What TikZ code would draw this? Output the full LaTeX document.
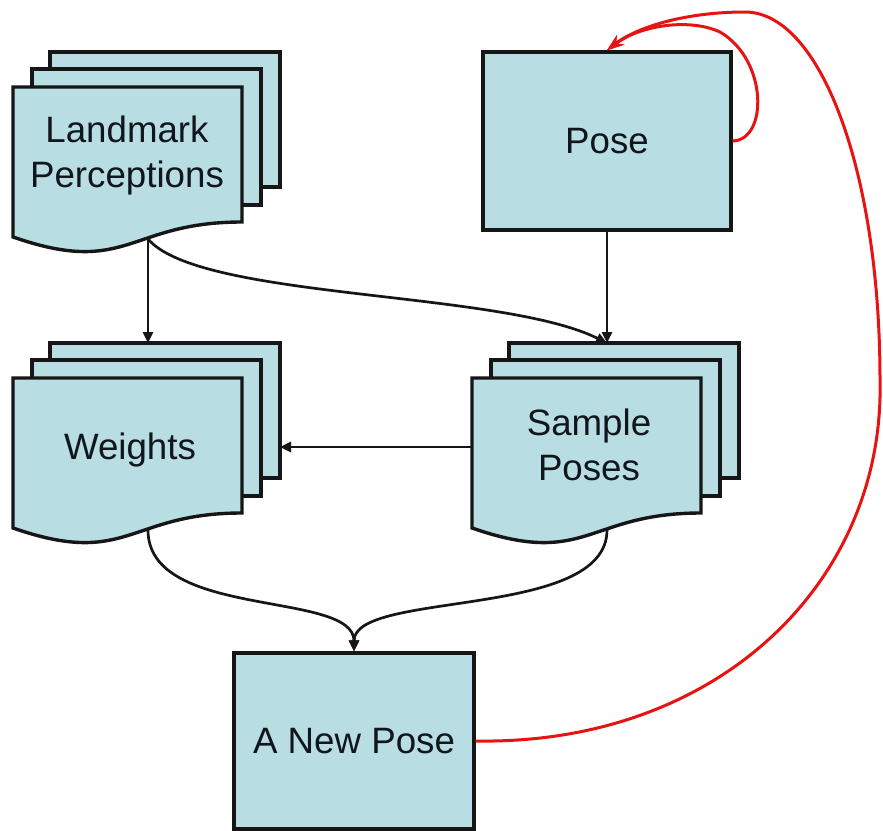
\documentclass[tikz,border=0pt]{standalone}
\usepackage{fontspec}
\setmainfont{Liberation Sans}
\usetikzlibrary{arrows.meta}

\definecolor{sheetfill}{RGB}{184,221,227}
\definecolor{inkline}{RGB}{22,22,22}
\definecolor{textink}{RGB}{16,22,28}
\definecolor{loopred}{RGB}{232,18,18}

% A stack of three sheets; the front one has a wavy lower edge.
% #1 name, #2/#3 top-left corner of the front sheet
\newcommand\drawstack[3]{%
  \begin{scope}[shift={(#2,#3)}]
    \draw[sheet] (37,-35) rectangle (267,100);
    \draw[sheet] (19,-18) rectangle (248,118);
    \draw[sheet] (0,0) -- (229,0) -- (229,135)
      .. controls (115,135) and (115,190) .. (0,150) -- cycle;
    \coordinate (#1-in)  at (135,-35);
    \coordinate (#1-out) at (135,152);
    \coordinate (#1-w)   at (0,69);
    \coordinate (#1-e)   at (267,69);
  \end{scope}}

\begin{document}
\begin{tikzpicture}[x=1pt,y=-1pt,
  sheet/.style={draw=inkline, line width=3.4pt, fill=sheetfill, line join=miter},
  box/.style={draw=inkline, line width=3.4pt, fill=sheetfill, text=textink,
    font=\fontsize{36.7pt}{45pt}\selectfont, inner sep=0pt},
  doctext/.style={text=textink, align=center, inner sep=0pt,
    font=\fontsize{36.7pt}{45pt}\selectfont},
  flow/.style={draw=inkline, line width=2.7pt, -{Triangle[length=11pt,width=10pt]}},
  feedback/.style={draw=loopred, line width=3pt, -{Stealth[length=17pt,width=12pt]}}]

  \useasboundingbox (0,0) rectangle (883,830);
  \fill[white] (0,0) rectangle (883,830);

  % document stacks
  \drawstack{lm}{13}{87}
  \drawstack{wt}{13}{378}
  \drawstack{sp}{472}{378}

  \node[doctext] (lmtext) at (127,156) {Landmark\\Perceptions};
  \node[doctext] (wttext) at (130,450) {Weights};
  \node[doctext] (sptext) at (589,445) {Sample\\Poses};

  % single boxes
  \node[box, minimum width=248pt, minimum height=178pt] (pose) at (607,141) {Pose};
  \node[box, minimum width=240pt, minimum height=176pt] (newpose) at (354,741) {A New Pose};

  % data flow
  \draw[flow] (lm-out) -- (wt-in);
  \draw[flow] (lm-out) .. controls (200,300) and (500,290) .. (sp-in);
  \draw[flow] (pose.south) -- (sp-in);
  \draw[flow] (sp-w) -- (wt-e);
  \draw[flow] (wt-out) .. controls (148,620) and (354,590) .. (newpose.north);
  \draw[flow] (sp-out) .. controls (607,620) and (354,590) .. (newpose.north);

  % feedback into the pose
  \draw[feedback] (newpose.east) .. controls (720,745) and (885,580) .. (880,380)
    .. controls (880,170) and (820,12) .. (745,12)
    .. controls (690,12) and (640,25) .. (pose.north);
  \draw[feedback] (pose.east) .. controls (768,140) and (768,60) .. (720,32)
    .. controls (690,18) and (640,25) .. (pose.north);
\end{tikzpicture}
\end{document}
